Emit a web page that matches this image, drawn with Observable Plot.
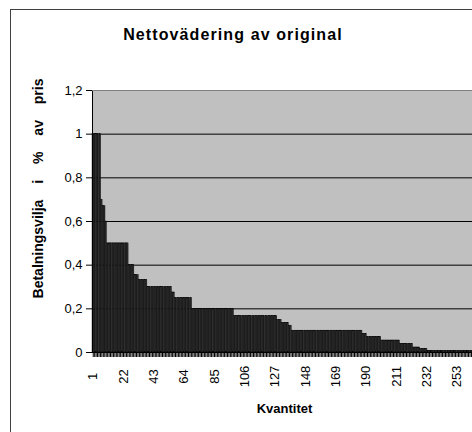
<!DOCTYPE html>
<html><head><meta charset="utf-8">
<script src="https://cdn.jsdelivr.net/npm/d3@7"></script>
<script src="https://cdn.jsdelivr.net/npm/@observablehq/plot@0.6"></script>
<style>
html,body{margin:0;padding:0;background:#fff;overflow:hidden;width:472px;height:432px;}
#wrap{position:relative;width:472px;height:432px;overflow:hidden;font-family:"Liberation Sans",Arial,sans-serif;}
#border{position:absolute;left:10px;top:9px;width:600px;height:600px;border:1px solid #404040;pointer-events:none;z-index:2;}
#title{position:absolute;left:0;width:466px;top:27px;text-align:center;font-weight:bold;font-size:16px;line-height:16px;letter-spacing:1.1px;}
#chart{position:absolute;left:0;top:0;}
</style></head>
<body><div id="wrap"><div id="border"></div><div id="title"></div><div id="chart"></div></div>
<script>
const title = "Nettovädering av original";
const xLabel = "Kvantitet";
const yLabel = "Betalningsvilja i % av pris";
// values of each run of equal bars (left to right) and how many bars each run has
const stepValues = [1.0, 0.70, 0.67, 0.60, 0.50, 0.40, 0.355, 0.333, 0.30, 0.275, 0.25, 0.20, 0.167, 0.15, 0.136, 0.123, 0.10, 0.085, 0.072, 0.055, 0.04, 0.023, 0.017, 0.008];
const stepCounts = [6, 1, 2, 1, 15, 4, 3, 6, 17, 2, 12, 29, 30, 3, 5, 2, 49, 3, 10, 13, 9, 5, 5, 34];
const xTickLabels = [1, 22, 43, 64, 85, 106, 127, 148, 169, 190, 211, 232, 253];
const yTicks = [0, 0.2, 0.4, 0.6, 0.8, 1.0, 1.2];

document.getElementById("title").textContent = title;

const data = [];
let k = 1;
stepValues.forEach((v, j) => { for (let c = 0; c < stepCounts[j]; c++) data.push({i: k++, v}); });
const idx = data.map(d => d.i);
const fmt = d => String(+d.toFixed(1)).replace(".", ",");
const font = "'Liberation Sans', Arial, sans-serif";

const chart = Plot.plot({
  width: 480, height: 432,
  marginLeft: 92, marginRight: 4, marginTop: 90, marginBottom: 80,
  style: {background: "transparent", fontFamily: font, fontSize: "13px", color: "black", overflow: "visible", maxWidth: "none"},
  x: {type: "band", domain: idx, padding: 0, axis: null},
  y: {domain: [0, 1.2], axis: null},
  marks: [
    Plot.frame({fill: "#c0c0c0"}),
    Plot.ruleY(yTicks.filter(t => t > 0 && t < 1.2), {stroke: "black", strokeWidth: 1}),
    Plot.barY(data, {x: "i", y: "v", fill: "#2e2e2e", stroke: "#000", strokeWidth: 0.4}),
    Plot.frame({stroke: "black"}),
    Plot.ruleY([1.2], {stroke: "#808080"}),
    Plot.axisY({ticks: yTicks, tickFormat: fmt, tickSize: 6, tickPadding: 4, fontSize: 13, label: null}),
    Plot.axisX({ticks: idx, tickSize: 5, tickFormat: () => "", label: null}),
    Plot.text(xTickLabels, {x: d => d, text: d => String(d), frameAnchor: "bottom", dy: 24, rotate: -90, fontSize: 13, textAnchor: "middle", lineAnchor: "middle"}),
    Plot.text([xLabel], {frameAnchor: "bottom", dy: 56, fontWeight: "bold", fontSize: 13, textAnchor: "middle", lineAnchor: "middle"}),
    Plot.text([yLabel], {frameAnchor: "left", dx: -54, dy: -33, rotate: -90, fontWeight: "bold", fontSize: 14, textAnchor: "middle", lineAnchor: "middle"})
  ]
});
d3.select(chart).selectAll("text").filter(function() { return this.textContent === yLabel; }).style("word-spacing", "12px");
document.getElementById("chart").appendChild(chart);
</script>
</body></html>
